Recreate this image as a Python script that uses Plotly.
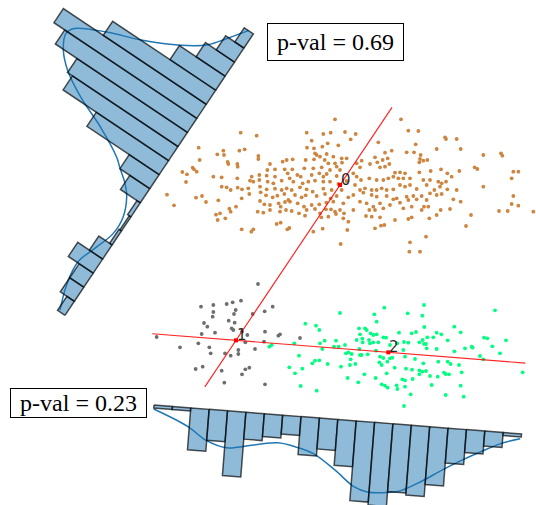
import numpy as np
import plotly.graph_objects as go

# ---------------------------------------------------------------------------
# Cluster members, (x, y) in canvas units (y grows downward)
# ---------------------------------------------------------------------------
cluster0_pts = [
    (1005, 358), (722, 398), (770, 407), (920, 398), (970, 402), (992, 398), (1035, 396),
    (935, 422), (983, 430), (1015, 436), (596, 443), (718, 452), (734, 448), (921, 443),
    (942, 445), (967, 440), (652, 463), (670, 452), (672, 465), (775, 468), (775, 477),
    (945, 460), (950, 465), (960, 470), (980, 462), (1000, 470), (1025, 475), (1040, 475),
    (599, 480), (683, 486), (685, 492), (712, 492), (713, 500), (810, 492), (848, 485),
    (860, 480), (878, 478), (917, 480), (942, 478), (974, 480), (985, 490), (1005, 490),
    (1026, 488), (578, 503), (590, 515), (582, 508), (547, 516), (561, 523), (802, 510),
    (825, 508), (854, 508), (877, 508), (913, 505), (940, 505), (965, 502), (990, 510),
    (1010, 500), (1020, 510), (640, 530), (665, 532), (712, 535), (755, 530), (778, 525),
    (800, 527), (825, 530), (863, 520), (869, 535), (892, 525), (902, 530), (935, 525),
    (958, 520), (970, 530), (980, 522), (1010, 528), (558, 546), (750, 542), (760, 545),
    (778, 540), (803, 545), (820, 550), (845, 542), (880, 545), (908, 550), (925, 545),
    (945, 542), (970, 545), (990, 545), (1015, 552), (1040, 543), (665, 560), (680, 562),
    (692, 570), (713, 563), (726, 568), (745, 565), (780, 560), (800, 568), (825, 566),
    (845, 570), (860, 565), (875, 570), (900, 562), (920, 568), (938, 575), (970, 566),
    (995, 570), (1025, 570), (501, 584), (588, 593), (606, 588), (618, 606), (655, 601),
    (725, 595), (748, 582), (782, 577), (798, 586), (818, 592), (832, 587), (853, 582),
    (865, 600), (885, 585), (905, 592), (917, 586), (950, 588), (975, 582), (992, 595),
    (1010, 588), (1045, 592), (522, 616), (648, 644), (660, 640), (688, 626), (692, 635),
    (708, 620), (780, 603), (793, 613), (810, 615), (836, 610), (842, 620), (855, 606),
    (870, 605), (893, 610), (912, 620), (935, 615), (958, 613), (979, 608), (1000, 605),
    (1030, 610), (653, 660), (676, 655), (773, 635), (790, 638), (810, 630), (840, 635),
    (858, 630), (875, 633), (897, 640), (920, 630), (945, 627), (960, 640), (978, 628),
    (993, 628), (1005, 635), (1020, 630), (1032, 640), (842, 668), (830, 672), (915, 647),
    (964, 652), (985, 650), (1008, 642), (1030, 655), (1045, 665), (725, 688), (754, 695),
    (760, 688), (862, 688), (868, 684), (940, 695), (968, 686), (1042, 690), (1022, 732),
    (1203, 358), (1225, 392), (1255, 393), (1067, 402), (1052, 418), (1135, 427),
    (1247, 433), (1370, 417), (1335, 412), (1338, 417), (1155, 458), (1175, 452),
    (1220, 457), (1242, 457), (1310, 447), (1382, 447), (1450, 465), (1503, 460),
    (1507, 467), (1085, 482), (1125, 472), (1132, 487), (1148, 480), (1163, 475),
    (1168, 492), (1260, 477), (1270, 482), (1282, 480), (1262, 465), (1258, 487),
    (1070, 490), (1110, 492), (1140, 502), (1155, 500), (1080, 502), (1185, 518),
    (1200, 517), (1215, 520), (1258, 517), (1292, 513), (1323, 508), (1342, 520),
    (1378, 513), (1424, 502), (1432, 507), (1540, 515), (1555, 515), (1060, 520),
    (1070, 530), (1083, 540), (1108, 535), (1130, 540), (1150, 540), (1165, 535),
    (1180, 530), (1195, 535), (1210, 535), (1230, 535), (1270, 540), (1290, 540),
    (1315, 545), (1325, 550), (1338, 545), (1355, 530), (1535, 535), (1065, 555),
    (1080, 570), (1095, 565), (1115, 570), (1130, 570), (1145, 565), (1160, 570),
    (1180, 568), (1200, 555), (1215, 560), (1230, 555), (1250, 567), (1280, 555),
    (1303, 570), (1320, 560), (1342, 568), (1370, 570), (1450, 560), (1060, 585),
    (1090, 578), (1115, 585), (1130, 590), (1160, 588), (1190, 595), (1220, 590),
    (1240, 588), (1265, 588), (1290, 580), (1310, 585), (1325, 582), (1540, 588),
    (1080, 605), (1100, 610), (1120, 620), (1140, 610), (1180, 598), (1200, 608),
    (1225, 600), (1250, 598), (1280, 600), (1360, 598), (1382, 605), (1535, 612),
    (1555, 617), (1060, 630), (1108, 630), (1125, 630), (1150, 625), (1170, 615),
    (1210, 625), (1235, 620), (1265, 630), (1272, 620), (1285, 620), (1322, 630),
    (1350, 627), (1497, 633), (1523, 633), (1600, 635), (1098, 648), (1115, 650),
    (1140, 652), (1185, 660), (1225, 657), (1235, 652), (1288, 655), (1310, 645),
    (1413, 645), (1125, 685), (1143, 677), (1153, 675), (1398, 678), (1278, 710),
    (1230, 727), (1228, 755), (1260, 755),
]

cluster1_pts = [
    (603, 920), (640, 915), (680, 912), (698, 907), (723, 902), (818, 920), (640, 936),
    (638, 950), (707, 930), (702, 942), (758, 942), (794, 934), (612, 969), (622, 980),
    (686, 962), (704, 968), (695, 985), (700, 990), (726, 995), (605, 1002), (645, 998),
    (742, 1005), (795, 995), (835, 1007), (840, 1003), (470, 1011), (595, 1030),
    (540, 1042), (628, 1042), (736, 1027), (792, 1025), (765, 1047), (632, 1060),
    (675, 1060), (692, 1067), (715, 1050), (715, 1062), (587, 1107), (608, 1100),
    (665, 1112), (736, 1108), (748, 1103), (726, 1123), (673, 1148), (795, 1153),
    (774, 852), (900, 1014),
]

cluster2_pts = [
    (808, 1040), (815, 1035),
    (1272, 915), (1153, 923), (1020, 939), (1123, 943), (1223, 940), (1267, 947),
    (1485, 931), (916, 971), (948, 977), (958, 990), (1130, 965), (1077, 985), (1095, 985),
    (1100, 990), (1273, 981), (1363, 980), (1382, 997), (1112, 1000), (1120, 1005),
    (1130, 1003), (1080, 1003), (1150, 1012), (1158, 1013), (1235, 1000), (1248, 996),
    (1310, 998), (1324, 1003), (1452, 1013), (1462, 1015), (1518, 1021), (883, 1030),
    (960, 1030), (974, 1022), (1008, 1022), (1070, 1020), (1087, 1016), (1088, 1027),
    (1107, 1020), (1110, 1030), (1120, 1027), (1135, 1027), (1197, 998), (1192, 1030),
    (1212, 1026), (1225, 1028), (1258, 1027), (1268, 1020), (1282, 1012), (1300, 1012),
    (1343, 1021), (1272, 1032), (1278, 1032), (967, 1047), (1002, 1040), (1016, 1040),
    (1035, 1035), (1078, 1047), (1170, 1035), (1280, 1045), (1310, 1047), (1395, 1045),
    (1415, 1040), (1418, 1043), (1477, 1039), (1500, 1060), (1363, 1054), (897, 1067),
    (1038, 1060), (1045, 1057), (1055, 1062), (1080, 1065), (1085, 1065), (1103, 1063),
    (1128, 1052), (1210, 1050), (1140, 1070), (1150, 1074), (1170, 1075), (1177, 1073),
    (1215, 1070), (1245, 1077), (1440, 1068), (1450, 1078), (945, 1082), (937, 1090),
    (958, 1081), (983, 1092), (1052, 1078), (1138, 1087), (1162, 1085), (1145, 1095),
    (1270, 1090), (1315, 1085), (1343, 1085), (1352, 1092), (1377, 1095), (868, 1102),
    (907, 1106), (1023, 1100), (1050, 1095), (1066, 1092), (1184, 1103), (1218, 1106),
    (1236, 1109), (1258, 1111), (1267, 1115), (1278, 1113), (1332, 1118), (1337, 1122),
    (1347, 1123), (1385, 1117), (1568, 1117), (885, 1120), (1093, 1123), (1160, 1120),
    (1258, 1123), (1290, 1128), (1313, 1130), (1043, 1134), (1127, 1134), (1207, 1138),
    (1215, 1141), (1238, 1137), (1075, 1147), (902, 1158), (950, 1172), (1145, 1153),
    (1155, 1157), (1163, 1163), (1190, 1156), (1192, 1167), (1215, 1160), (1295, 1155),
    (1382, 1157), (1232, 1183), (1337, 1185), (1391, 1190), (1212, 1218),
]

cluster_labels = ["0", "1", "2"]
centroid_x = [1020, 708, 1165]
centroid_y = [555, 1021, 1057]

# ---------------------------------------------------------------------------
# Projection histograms (20 bins) and their density curves
# ---------------------------------------------------------------------------
# pair (1, 0): bins ordered from cluster 1 side toward cluster 0 side
hist_10 = [9, 17, 17, 30, 16, 3, 2, 4, 24, 36, 87, 127, 133, 159, 172, 124, 55, 35, 22, 11]
kde_10_pos = [0.09, 1.22, 2.28, 3.17, 4.35, 5.59, 6.71, 7.83, 8.42, 9.07, 9.46, 10.40,
              11.22, 12.11, 12.97, 13.87, 14.38, 15.30, 16.01, 17.06, 17.97, 18.95, 20.0]
kde_10_val = [7, 14, 18.2, 18.7, 12, 5.5, 6.3, 14.5, 23, 37, 45, 75,
              108, 134, 149, 156, 152, 122, 90, 54, 32, 19, 6]
pval_10 = 0.69

# pair (1, 2): bins ordered from cluster 1 side toward cluster 2 side
hist_12 = [3, 3, 42, 31, 65, 27, 23, 19, 38, 31, 46, 80, 83, 68, 70, 58, 35, 23, 15, 3]
kde_12_pos = [0, 1.95, 2.95, 4.12, 4.83, 6.84, 7.92, 8.83, 10.09, 11.18, 11.90, 12.98,
              13.71, 14.80, 15.88, 16.78, 17.87, 18.95, 19.95]
kde_12_val = [4, 19, 31, 37, 35, 28, 31, 36, 51, 66, 70, 69, 66, 55, 42, 32, 21, 11, 5]
pval_12 = 0.23

# ---------------------------------------------------------------------------
# Layout constants
# ---------------------------------------------------------------------------
W_UNITS, H_UNITS = 1608, 1515
SCALE = 3.0                       # canvas units per histogram unit
HIST_10_ORIGIN = np.array([195.0, 946.0])
HIST_10_LEN = 1015.8
HIST_12_ORIGIN = np.array([462.0, 1215.0])
HIST_12_LEN = 1106.0

BAR_FILL = "rgba(31,119,180,0.5)"
BAR_EDGE = "rgba(0,0,0,0.68)"
KDE_COLOR = "#1f77b4"

fig = go.Figure()


def add_points(pts, color):
    xs, ys = zip(*pts)
    fig.add_trace(go.Scatter(x=xs, y=ys, mode="markers", hoverinfo="skip",
                             marker=dict(size=3.8, color=color, line=dict(width=0))))


add_points(cluster0_pts, "#cd853f")
add_points(cluster1_pts, "#6e6e6e")
add_points(cluster2_pts, "#00ff7f")

c = np.column_stack([centroid_x, centroid_y]).astype(float)


def add_axis_line(a, b, t0, t1):
    p0 = c[a] + t0 * (c[b] - c[a])
    p1 = c[a] + t1 * (c[b] - c[a])
    fig.add_trace(go.Scatter(x=[p0[0], p1[0]], y=[p0[1], p1[1]], mode="lines",
                             hoverinfo="skip",
                             line=dict(color="rgba(255,0,0,0.85)", width=1.2)))


add_axis_line(1, 0, -0.3, 1.5)
add_axis_line(1, 2, -0.55, 1.9)

fig.add_trace(go.Scatter(x=centroid_x, y=centroid_y, mode="markers", hoverinfo="skip",
                         marker=dict(size=4, color="red", symbol="square")))

for lab, cx, cy in zip(cluster_labels, centroid_x, centroid_y):
    fig.add_annotation(x=cx, y=cy, text=lab, showarrow=False, xanchor="left",
                       yanchor="bottom", yshift=-4.5, borderpad=0,
                       font=dict(family="DejaVu Sans", size=15, color="rgba(0,0,0,0.85)"))


def add_projection_hist(origin, a, b, length, counts, kde_pos, kde_val, flip_normal):
    u = c[b] - c[a]
    u = u / np.linalg.norm(u)
    n = np.array([u[1], -u[0]]) if not flip_normal else np.array([-u[1], u[0]])
    w = length / len(counts)
    # density curve first, so the translucent bars sit on top of it
    pts = [origin + p * w * u + v * SCALE * n for p, v in zip(kde_pos, kde_val)]
    fig.add_trace(go.Scatter(x=[p[0] for p in pts], y=[p[1] for p in pts], mode="lines",
                             hoverinfo="skip",
                             line=dict(color=KDE_COLOR, width=1.5, shape="spline",
                                       smoothing=1.0)))
    for i, cnt in enumerate(counts):
        p0 = origin + i * w * u
        p1 = origin + (i + 1) * w * u
        h = cnt * SCALE * n
        poly = [p0, p1, p1 + h, p0 + h, p0]
        fig.add_trace(go.Scatter(x=[p[0] for p in poly], y=[p[1] for p in poly],
                                 mode="lines", fill="toself", fillcolor=BAR_FILL,
                                 hoverinfo="skip",
                                 line=dict(color=BAR_EDGE, width=1.5)))


# pair 1-0: bars grow toward the upper left
add_projection_hist(HIST_10_ORIGIN, 1, 0, HIST_10_LEN, hist_10, kde_10_pos, kde_10_val, False)
# pair 1-2: bars grow downward
add_projection_hist(HIST_12_ORIGIN, 1, 2, HIST_12_LEN, hist_12, kde_12_pos, kde_12_val, True)


def add_pval_box(x, y, p, h):
    fig.add_annotation(x=x, y=y, text=f"p-val = {p:.2f}", showarrow=False,
                       xanchor="center", yanchor="middle", width=135, height=h,
                       borderpad=0, bordercolor="black", borderwidth=1, bgcolor="white",
                       font=dict(family="Liberation Serif", size=24, color="black"))


add_pval_box(1006.5, 124.5, pval_10, 36)
add_pval_box(235.5, 1209, pval_12, 28)

fig.update_layout(
    width=536, height=505, margin=dict(l=0, r=0, t=0, b=0),
    paper_bgcolor="white", plot_bgcolor="white", showlegend=False,
    xaxis=dict(range=[0, W_UNITS], visible=False, fixedrange=True),
    yaxis=dict(range=[H_UNITS, 0], visible=False, fixedrange=True),
)

fig.write_html("out.html", config={"displayModeBar": False})
